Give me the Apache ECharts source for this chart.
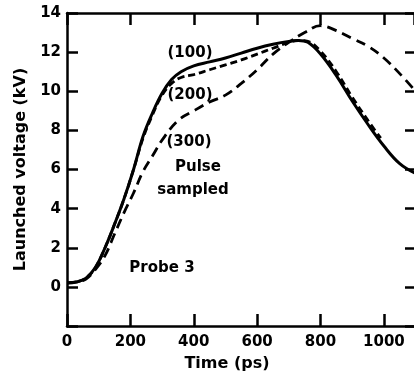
<!DOCTYPE html>
<html><head><meta charset="utf-8">
<script src="https://cdn.jsdelivr.net/npm/echarts@6/dist/echarts.min.js"></script>
<style>html,body{margin:0;padding:0;background:#fff}#c{width:414px;height:377px}</style>
</head><body><div id="c"></div>
<script>
// Data (time in ps, launched voltage in kV)
var t100 = [0, 30, 60, 90, 120, 150, 180, 210, 240, 270, 300, 330, 360, 400, 450, 500, 550, 600, 650, 700, 730, 760, 800, 850, 900, 950, 1000, 1050, 1100];
var v100 = [0.2, 0.25, 0.45, 1.0, 2.0, 3.2, 4.5, 6.0, 7.7, 8.9, 9.9, 10.6, 11.0, 11.3, 11.5, 11.7, 11.95, 12.2, 12.4, 12.55, 12.6, 12.5, 11.9, 10.8, 9.5, 8.3, 7.2, 6.3, 5.8];
var t200 = [0, 30, 60, 90, 120, 150, 180, 210, 240, 270, 300, 330, 360, 400, 450, 500, 550, 600, 650, 700, 730, 760, 800, 850, 900, 950, 990];
var v200 = [0.2, 0.25, 0.45, 1.0, 2.0, 3.2, 4.5, 6.0, 7.6, 8.8, 9.8, 10.4, 10.7, 10.85, 11.1, 11.35, 11.6, 11.9, 12.2, 12.5, 12.6, 12.55, 12.05, 11.0, 9.7, 8.5, 7.6];
var t300 = [0, 30, 60, 90, 120, 150, 180, 210, 240, 270, 300, 350, 400, 450, 500, 550, 600, 650, 700, 750, 800, 850, 900, 950, 1000, 1050, 1100];
var v300 = [0.2, 0.25, 0.4, 0.9, 1.6, 2.7, 3.8, 4.8, 5.9, 6.7, 7.5, 8.5, 9.0, 9.45, 9.8, 10.4, 11.1, 11.9, 12.5, 13.0, 13.35, 13.1, 12.7, 12.3, 11.7, 10.9, 10.0];
var xTicks = [0, 200, 400, 600, 800, 1000];
var yTicks = [0, 2, 4, 6, 8, 10, 12, 14];
var labels = ['(100)', '(200)', '(300)', 'Pulse', 'sampled', 'Probe 3'];

function pairs(t, v) { return t.map(function (x, i) { return [x, v[i]]; }); }
var FONT = 'DejaVu Sans';
var chart = echarts.init(document.getElementById('c'));
var axisLine = { show: true, onZero: false, lineStyle: { color: '#000', width: 2.5 } };
var lineBase = { color: '#000', width: 3 };
function txt(s, cx, cy) {
  return { type: 'text', x: cx, y: cy, style: { text: s, font: 'bold 15px "' + FONT + '"', fill: '#000', textAlign: 'center', textVerticalAlign: 'middle' } };
}
chart.setOption({
  animation: false,
  grid: { left: 67, top: 13, right: 0, bottom: 49 },
  xAxis: [{
    type: 'value', min: 0, max: 1095, interval: 200, position: 'bottom',
    axisLine: axisLine, splitLine: { show: false },
    axisTick: { inside: true, length: 12, lineStyle: { width: 2.5, color: '#000' } },
    axisLabel: { color: '#000', fontFamily: FONT, fontWeight: 'bold', fontSize: 15, margin: 9, showMaxLabel: false,
      formatter: function (v) { return xTicks.indexOf(v) >= 0 ? String(v) : ''; } },
    name: 'Time (ps)', nameLocation: 'middle', nameGap: 30,
    nameTextStyle: { color: '#000', fontFamily: FONT, fontWeight: 'bold', fontSize: 16, padding: [0, 27, 0, 0] }
  }, {
    type: 'value', min: 0, max: 1095, interval: 200, position: 'top',
    axisLine: axisLine, splitLine: { show: false },
    axisTick: { inside: true, length: 12, lineStyle: { width: 2.5, color: '#000' } },
    axisLabel: { show: false }
  }],
  yAxis: [{
    type: 'value', min: -2, max: 14, interval: 2, position: 'left',
    axisLine: axisLine, splitLine: { show: false },
    axisTick: { inside: true, length: 11, lineStyle: { width: 2.5, color: '#000' } },
    axisLabel: { color: '#000', fontFamily: FONT, fontWeight: 'bold', fontSize: 15, margin: 6,
      formatter: function (v) { return yTicks.indexOf(v) >= 0 ? String(v) : ''; } },
    name: 'Launched voltage (kV)', nameLocation: 'middle', nameGap: 30,
    nameTextStyle: { color: '#000', fontFamily: FONT, fontWeight: 'bold', fontSize: 16 }
  }, {
    type: 'value', min: -2, max: 14, interval: 2, position: 'right',
    axisLine: { show: false, onZero: false }, splitLine: { show: false },
    axisTick: { show: true, inside: true, length: 9, lineStyle: { width: 2.5, color: '#000' } },
    axisLabel: { show: false }
  }],
  series: [
    { type: 'line', name: '(100)', data: pairs(t100, v100), smooth: 0.4, showSymbol: false, lineStyle: lineBase, clip: true },
    { type: 'line', name: '(200)', data: pairs(t200, v200), smooth: 0.4, showSymbol: false, lineStyle: { color: '#000', width: 2.8, type: [7, 4] }, clip: true },
    { type: 'line', name: '(300)', data: pairs(t300, v300), smooth: 0.4, showSymbol: false, lineStyle: { color: '#000', width: 2.8, type: [10, 6] }, clip: true }
  ],
  graphic: [
    txt(labels[0], 190, 53), txt(labels[1], 190, 95), txt(labels[2], 189, 142),
    txt(labels[3], 198, 167), txt(labels[4], 193, 190), txt(labels[5], 162, 268)
  ]
});
</script></body></html>
